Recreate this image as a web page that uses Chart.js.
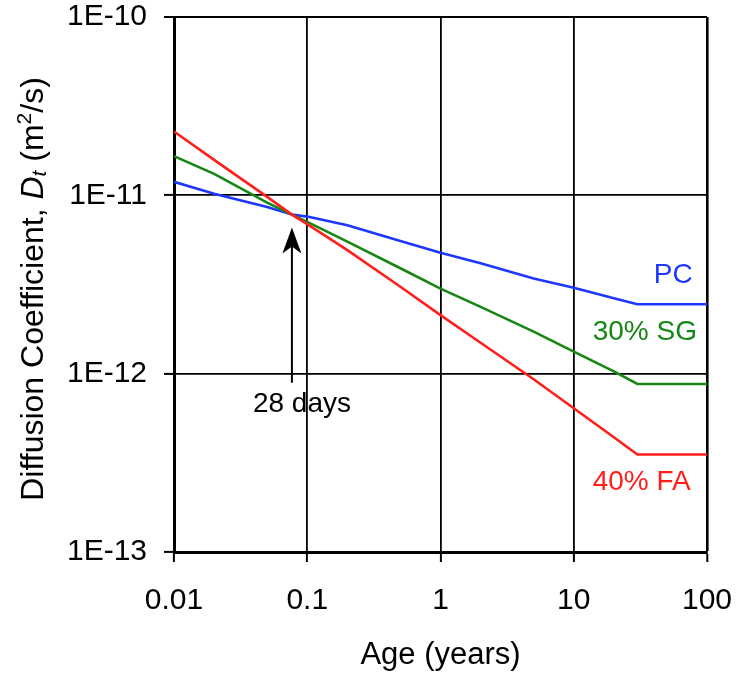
<!DOCTYPE html>
<html>
<head>
<meta charset="utf-8">
<script src="https://cdn.jsdelivr.net/npm/chart.js@4/dist/chart.umd.min.js"></script>
<style>
  html, body { margin: 0; padding: 0; background: #fff; }
  #wrap { width: 736px; height: 673px; }
</style>
</head>
<body>
<div id="wrap"><canvas id="c" width="736" height="673"></canvas></div>
<script>
// Age in years at which each curve is sampled
const AGE_YEARS = [0.01, 0.02, 0.05, 0.0767, 0.1, 0.2, 0.5, 1, 2, 5, 10, 20, 30, 100];

// Diffusion coefficient D(t) in m²/s for each mix
const D_PC   = [1.19e-11, 1.02e-11, 8.6e-12, 7.8e-12, 7.6e-12, 6.8e-12, 5.55e-12, 4.77e-12, 4.16e-12, 3.42e-12, 3.03e-12, 2.65e-12, 2.45e-12, 2.45e-12];
const D_SG30 = [1.66e-11, 1.32e-11, 9.1e-12, 7.8e-12, 7.1e-12, 5.5e-12, 3.9e-12, 3.0e-12, 2.37e-12, 1.72e-12, 1.33e-12, 1.03e-12, 8.75e-13, 8.75e-13];
const D_FA40 = [2.28e-11, 1.58e-11, 9.8e-12, 7.8e-12, 6.9e-12, 4.93e-12, 3.07e-12, 2.13e-12, 1.49e-12, 9.3e-13, 6.4e-13, 4.4e-13, 3.52e-13, 3.52e-13];

const SERIES_NAMES = ['PC', '30% SG', '40% FA'];

const X_TICKS = [0.01, 0.1, 1, 10, 100];
const X_TICK_LABELS = ['0.01', '0.1', '1', '10', '100'];
const Y_TICKS = [1e-13, 1e-12, 1e-11, 1e-10];
const Y_TICK_LABELS = ['1E-13', '1E-12', '1E-11', '1E-10'];

const ARROW_AGE_DAYS = 28;
const ARROW_LABEL = '28 days';

// Styling
const FONT = '"Liberation Sans", Arial, sans-serif';
const COLORS = ['rgb(30,55,255)', 'rgb(20,135,20)', 'rgb(255,30,25)'];

// Where each series name sits: [age, D] of the right end of the text baseline
const NAME_ANCHORS = [[78, 3.21e-12], [84, 1.54e-12], [75.5, 2.24e-13]];
// Arrow: tip and tail values, plus label anchor (centre of baseline)
const ARROW_TIP_D = 6.6e-12;
const ARROW_TAIL_D = 8.9e-13;
const ARROW_LABEL_AT = [0.0912, 6.1e-13];

const toPoints = (ys) => AGE_YEARS.map((a, i) => ({ x: a, y: ys[i] }));

const annotations = {
  id: 'annotations',
  afterDatasetsDraw(chart) {
    const { ctx, scales: { x, y } } = chart;
    ctx.save();

    // series names
    ctx.font = '28px ' + FONT;
    ctx.textAlign = 'right';
    ctx.textBaseline = 'alphabetic';
    SERIES_NAMES.forEach((name, i) => {
      ctx.fillStyle = COLORS[i];
      ctx.fillText(name, x.getPixelForValue(NAME_ANCHORS[i][0]), y.getPixelForValue(NAME_ANCHORS[i][1]));
    });

    // 28-day arrow
    const ax = x.getPixelForValue(ARROW_AGE_DAYS / 365);
    const tipY = y.getPixelForValue(ARROW_TIP_D);
    const tailY = y.getPixelForValue(ARROW_TAIL_D);
    ctx.strokeStyle = '#000';
    ctx.fillStyle = '#000';
    ctx.lineWidth = 2;
    ctx.beginPath();
    ctx.moveTo(ax, tailY);
    ctx.lineTo(ax, tipY + 18);
    ctx.stroke();
    ctx.beginPath();
    ctx.moveTo(ax, tipY);
    ctx.lineTo(ax + 9.5, tipY + 26);
    ctx.lineTo(ax, tipY + 19);
    ctx.lineTo(ax - 9.5, tipY + 26);
    ctx.closePath();
    ctx.fill();

    ctx.font = '28px ' + FONT;
    ctx.textAlign = 'center';
    ctx.fillStyle = '#000';
    ctx.fillText(ARROW_LABEL, x.getPixelForValue(ARROW_LABEL_AT[0]), y.getPixelForValue(ARROW_LABEL_AT[1]));
    ctx.restore();
  },
  afterDraw(chart) {
    const { ctx, chartArea } = chart;
    ctx.save();
    ctx.fillStyle = '#000';
    ctx.textBaseline = 'alphabetic';

    // x-axis title
    ctx.font = '31px ' + FONT;
    ctx.textAlign = 'center';
    ctx.fillText('Age (years)', (chartArea.left + chartArea.right) / 2, 664);

    // y-axis title with italic D_t and superscript 2
    const base = '32px ' + FONT;
    const ital = 'italic 32px ' + FONT;
    const small = '21px ' + FONT;
    const smallItal = 'italic 21px ' + FONT;
    const parts = [
      { t: 'Diffusion Coefficient, ', f: base, dy: 0 },
      { t: 'D', f: ital, dy: 0 },
      { t: 't', f: smallItal, dy: 3 },
      { t: ' (m', f: base, dy: 0 },
      { t: '2', f: small, dy: -12 },
      { t: '/s)', f: base, dy: 0 }
    ];
    let total = 0;
    parts.forEach(p => { ctx.font = p.f; p.w = ctx.measureText(p.t).width; total += p.w; });
    ctx.translate(43, 289);
    ctx.rotate(-Math.PI / 2);
    ctx.textAlign = 'left';
    let cx = -total / 2;
    parts.forEach(p => {
      ctx.font = p.f;
      ctx.fillText(p.t, cx, p.dy);
      cx += p.w;
    });
    ctx.restore();
  }
};

new Chart(document.getElementById('c'), {
  type: 'line',
  data: {
    datasets: [
      { label: SERIES_NAMES[0], data: toPoints(D_PC), borderColor: COLORS[0], order: 2 },
      { label: SERIES_NAMES[1], data: toPoints(D_SG30), borderColor: COLORS[1], order: 1 },
      { label: SERIES_NAMES[2], data: toPoints(D_FA40), borderColor: COLORS[2], order: 0 }
    ]
  },
  options: {
    responsive: false,
    animation: false,
    devicePixelRatio: 1,
    layout: { padding: { top: 17, right: 29, left: 0, bottom: 0 } },
    elements: {
      line: { borderWidth: 2.6, tension: 0, fill: false },
      point: { radius: 0, hoverRadius: 0 }
    },
    plugins: { legend: { display: false }, tooltip: { enabled: false } },
    scales: {
      x: {
        type: 'logarithmic',
        position: 'bottom',
        min: 0.01,
        max: 100,
        afterBuildTicks: (s) => { s.ticks = X_TICKS.map(v => ({ value: v })); },
        afterFit: (s) => {
          s.height = 121;
          s.paddingLeft = 0; s.paddingRight = 0; s.paddingTop = 0; s.paddingBottom = 0;
        },
        ticks: {
          callback: (v, i) => X_TICK_LABELS[i],
          font: { family: FONT, size: 30, lineHeight: 1 },
          color: '#000',
          padding: 24,
          maxRotation: 0,
          autoSkip: false
        },
        grid: {
          color: '#000',
          lineWidth: (c) => (c.tick && c.tick.value === 100 ? 2.6 : 1.8),
          drawTicks: true,
          tickLength: 10,
          tickColor: '#000',
          tickWidth: 2
        },
        border: { display: true, color: '#000', width: 3 }
      },
      y: {
        type: 'logarithmic',
        position: 'left',
        min: 1e-13,
        max: 1e-10,
        afterBuildTicks: (s) => { s.ticks = Y_TICKS.map(v => ({ value: v })); },
        afterFit: (s) => {
          s.width = 174;
          s.paddingLeft = 0; s.paddingRight = 0; s.paddingTop = 0; s.paddingBottom = 0;
        },
        ticks: {
          callback: (v, i) => Y_TICK_LABELS[i],
          font: { family: FONT, size: 30, lineHeight: 1 },
          color: '#000',
          padding: 17,
          autoSkip: false
        },
        grid: {
          color: '#000',
          lineWidth: (c) => (c.tick && c.tick.value === 1e-10 ? 2 : 1.8),
          drawTicks: true,
          tickLength: 10,
          tickColor: '#000',
          tickWidth: 2
        },
        border: { display: true, color: '#000', width: 3 }
      }
    }
  },
  plugins: [annotations]
});
</script>
</body>
</html>
